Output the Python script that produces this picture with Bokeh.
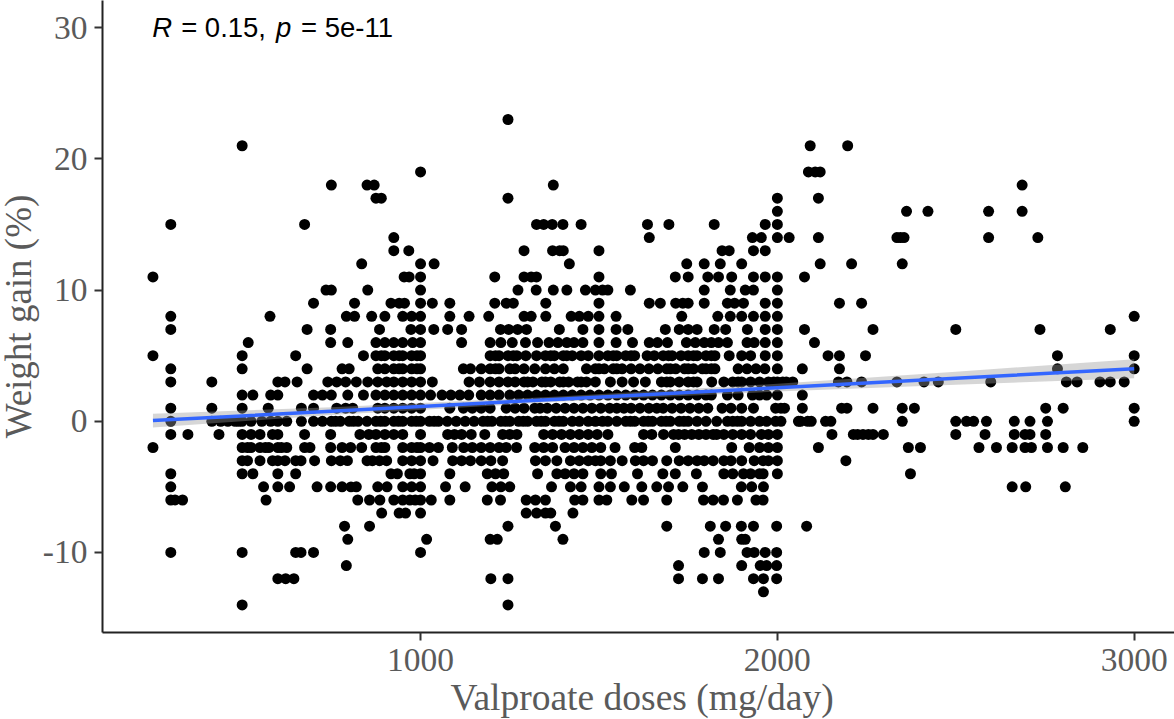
from bokeh.plotting import figure
from bokeh.models import Range1d, Label, FixedTicker, Title
from bokeh.embed import file_html
from bokeh.resources import INLINE

# Doses (mg/day) seen at each whole-number weight gain (%)
gain_p23 = [1245]
gain_p21 = [500, 2092, 2197]
gain_p19 = [1000, 2087, 2106, 2120]
gain_p18 = [750, 850, 870, 1372, 2686]
gain_p17 = [875, 890, 1245, 2000, 2115]
gain_p16 = [2000, 2362, 2422, 2592, 2686]
gain_p15 = [300, 675, 1325, 1345, 1369, 1399, 1450, 1636, 1696, 1823, 1966, 2000]
gain_p14 = [925, 1641, 1930, 1955, 2000, 2033, 2115, 2335, 2345, 2355, 2592, 2730]
gain_p13 = [925, 967, 1290, 1370, 1390, 1400, 1500, 1845, 1865, 1933, 1966]
gain_p12 = [835, 1000, 1038, 1417, 1746, 1795, 1840, 1900, 2120, 2208, 2350]
gain_p11 = [250, 954, 968, 1000, 1208, 1290, 1310, 1325, 1500, 1714, 1750, 1805, 1835, 1872, 1933, 1966, 2000, 2076]
gain_p10 = [735, 750, 852, 1000, 1273, 1324, 1372, 1410, 1462, 1490, 1510, 1525, 1588, 1795, 1868, 1910, 1933, 2000]
gain_p9 = [700, 815, 917, 940, 955, 1000, 1033, 1082, 1208, 1240, 1260, 1351, 1500, 1641, 1672, 1715, 1735, 1750, 1795,
           1860, 1880, 1905, 1966, 2000, 2174, 2236]
gain_p8 = [300, 578, 792, 815, 863, 900, 950, 975, 1000, 1082, 1136, 1191, 1290, 1310, 1351, 1422, 1445, 1470, 1500,
           1548, 1732, 1833, 1868, 1900, 1933, 1966, 2000, 3000]
gain_p7 = [300, 682, 748, 885, 973, 1000, 1037, 1076, 1115, 1224, 1247, 1272, 1297, 1389, 1455, 1500, 1548, 1581, 1686,
           1725, 1750, 1775, 1823, 1855, 1916, 1966, 2000, 2076, 2268, 2500, 2736, 2933]
gain_p6 = [517, 748, 796, 875, 900, 925, 950, 978, 1000, 1115, 1195, 1225, 1257, 1294, 1328, 1360, 1385, 1410, 1430,
           1455, 1500, 1548, 1594, 1641, 1664, 1692, 1745, 1770, 1795, 1815, 1835, 1860, 1915, 1935, 1966, 2000, 2104]
gain_p5 = [250, 500, 650, 840, 875, 890, 900, 925, 940, 950, 975, 990, 1000, 1195, 1210, 1220, 1245, 1260, 1270, 1295, 1325, 1350, 1365, 1375, 1400,
           1410, 1425, 1450, 1470, 1500, 1525, 1540, 1550, 1575, 1590, 1600, 1635, 1655, 1680, 1695, 1705, 1730, 1750, 1765, 1775, 1800, 1815, 1825, 1865,
           1900, 1925, 1966, 2000, 2142, 2174, 2247, 2785, 3000]
gain_p4 = [300, 500, 682, 780, 800, 880, 900, 925, 940, 950, 975, 990, 1000, 1120, 1140, 1170, 1195, 1210, 1220, 1250, 1265, 1290,
           1320, 1350, 1375, 1400, 1465, 1490, 1500, 1515, 1540, 1550, 1565, 1590, 1615, 1640, 1665, 1690, 1700, 1715, 1740, 1750, 1765, 1790,
           1800, 1815, 1825, 1890, 1915, 1940, 1965, 2000, 2070, 2174, 2785, 3000]
gain_p3 = [300, 415, 600, 620, 654, 740, 765, 790, 820, 852, 880, 905, 925, 950, 975, 1000, 1033, 1136, 1165, 1195,
           1220, 1245, 1265, 1290, 1300, 1315, 1340, 1350, 1365, 1390, 1400, 1415, 1440, 1450, 1465, 1490, 1532, 1565, 1597, 1630, 1675, 1690, 1700,
           1725, 1750, 1765, 1775, 1816, 1850, 1875, 1890, 1900, 1925, 1950, 1975, 1990, 2000, 2015, 2025, 2043, 2171, 2195, 2236,
           2335, 2411, 2451, 2598, 2810, 2840, 2904, 2933, 2972]
gain_p2 = [500, 530, 580, 600, 700, 725, 750, 796, 840, 875, 900, 925, 950, 975, 1000, 1028, 1060, 1085, 1110, 1135,
           1170, 1195, 1220, 1250, 1275, 1300, 1325, 1350, 1375, 1400, 1425, 1450, 1475, 1500, 1525, 1550, 1575, 1600,
           1625, 1650, 1675, 1700, 1725, 1750, 1775, 1800, 1815, 1860, 1890, 1930, 1950, 1970, 2000, 2070]
gain_p1 = [300, 415, 500, 573, 666, 700, 765, 790, 810, 880, 900, 925, 950, 975, 1000, 1082, 1120, 1145, 1170, 1195,
           1240, 1265, 1290, 1320, 1335, 1355, 1380, 1405, 1430, 1455, 1480, 1505, 1530, 1550, 1570, 1590, 1615, 1640,
           1662, 1680, 1705, 1730, 1755, 1780, 1805, 1845, 1870, 1900, 1933, 1995, 2010, 2020, 2070, 2180, 2195, 2268,
           2350, 2384, 2752, 2801, 3000]
gain_0 = [300, 415, 440, 460, 480, 490, 500, 525, 555, 580, 600, 625, 666, 700, 725, 750, 762, 775, 800, 812, 825, 850, 875, 888, 900,
          925, 938, 950, 975, 988, 1000, 1025, 1038, 1050, 1075, 1100, 1125, 1150, 1175, 1188, 1200, 1225, 1238, 1250, 1275, 1288, 1300, 1325, 1338, 1350,
          1375, 1388, 1400, 1425, 1445, 1470, 1490, 1510, 1525, 1550, 1575, 1588, 1600, 1625, 1638, 1650, 1675, 1688, 1700, 1725, 1738, 1750, 1775,
          1800, 1830, 1860, 1875, 1888, 1900, 1925, 1950, 1970, 1995, 2010, 2059, 2065, 2085, 2095, 2135, 2150, 2350, 2500,
          2530, 2550, 2586, 2664, 2708, 2757, 3000]
gain_m1 = [300, 348, 435, 500, 525, 550, 585, 600, 675, 748, 830, 855, 875, 900, 925, 950, 1000, 1076, 1095, 1115,
           1142, 1180, 1230, 1250, 1270, 1345, 1370, 1395, 1420, 1445, 1470, 1495, 1525, 1625, 1648, 1681, 1709, 1723,
           1740, 1760, 1780, 1800, 1820, 1830, 1850, 1875, 1900, 1925, 1955, 1975, 2000, 2153, 2213, 2225, 2240, 2255,
           2268, 2297, 2500, 2582, 2664, 2694, 2708, 2752]
gain_m2 = [250, 500, 515, 525, 550, 565, 575, 600, 610, 625, 675, 690, 748, 780, 804, 835, 875, 890, 900, 950, 975, 990, 1000, 1025, 1050,
           1089, 1121, 1145, 1170, 1195, 1220, 1240, 1269, 1320, 1345, 1370, 1405, 1430, 1455, 1480, 1505, 1545, 1600,
           1620, 1714, 1872, 1921, 1950, 1975, 2000, 2115, 2367, 2401, 2565, 2614, 2658, 2694, 2712, 2757, 2801, 2856]
gain_m3 = [500, 515, 550, 585, 600, 620, 650, 665, 703, 750, 775, 795, 850, 865, 885, 905, 950, 975, 1000, 1035, 1090,
           1115, 1140, 1170, 1197, 1230, 1322, 1350, 1382, 1420, 1445, 1470, 1490, 1505, 1532, 1565, 1602, 1625, 1650,
           1690, 1725, 1750, 1775, 1795, 1820, 1850, 1870, 1900, 1935, 1960, 1975, 2000, 2192]
gain_m4 = [300, 500, 530, 600, 650, 917, 935, 970, 982, 1000, 1082, 1187, 1210, 1233, 1328, 1382, 1405, 1430, 1455,
           1505, 1535, 1608, 1679, 1714, 1773, 1850, 1875, 1905, 1925, 1950, 1960, 2000, 2373]
gain_m5 = [300, 560, 600, 633, 710, 748, 780, 805, 820, 880, 906, 950, 975, 1000, 1070, 1125, 1200, 1225, 1250, 1367,
           1420, 1450, 1500, 1532, 1571, 1620, 1662, 1695, 1735, 1790, 1899, 1928, 1961, 2658, 2696, 2807]
gain_m6 = [300, 312, 333, 567, 824, 857, 886, 925, 950, 970, 985, 1000, 1030, 1082, 1187, 1224, 1296, 1322, 1350,
           1432, 1455, 1500, 1522, 1592, 1625, 1690, 1793, 1820, 1849, 1888, 1940, 1960]
gain_m7 = [891, 940, 958, 1000, 1296, 1325, 1350, 1365, 1427]
gain_m8 = [787, 857, 1245, 1378, 1690, 1812, 1855, 1899, 1933, 1998, 2082]
gain_m9 = [796, 1017, 1195, 1215, 1399, 1835, 1900, 1910]
gain_m10 = [300, 500, 650, 665, 700, 1000, 1795, 1840, 1915, 1935, 1966, 1998]
gain_m11 = [792, 1723, 1900, 1952, 1970, 1998]
gain_m12 = [600, 622, 645, 1197, 1245, 1723, 1790, 1835, 1933, 1961, 1998]
gain_m13 = [1961]
gain_m14 = [500, 1245]

gain_rows = {
    23: gain_p23, 21: gain_p21, 19: gain_p19, 18: gain_p18, 17: gain_p17, 16: gain_p16, 15: gain_p15,
    14: gain_p14, 13: gain_p13, 12: gain_p12, 11: gain_p11, 10: gain_p10, 9: gain_p9, 8: gain_p8,
    7: gain_p7, 6: gain_p6, 5: gain_p5, 4: gain_p4, 3: gain_p3, 2: gain_p2, 1: gain_p1, 0: gain_0,
    -1: gain_m1, -2: gain_m2, -3: gain_m3, -4: gain_m4, -5: gain_m5, -6: gain_m6, -7: gain_m7,
    -8: gain_m8, -9: gain_m9, -10: gain_m10, -11: gain_m11, -12: gain_m12, -13: gain_m13, -14: gain_m14,
}

# Regression line and its confidence band, read at a few doses
smooth_dose = [250, 750, 1400, 2000, 2500, 3000]
smooth_fit = [0.05, 0.77, 1.70, 2.56, 3.28, 4.00]
smooth_low = [-0.47, 0.47, 1.50, 2.26, 2.78, 3.28]
smooth_high = [0.57, 1.07, 1.90, 2.86, 3.78, 4.72]

x_ticks = [1000, 2000, 3000]
y_ticks = [-10, 0, 10, 20, 30]
y_tick_labels = {-10: "-10", 0: "0", 10: "10", 20: "20", 30: "30"}

xs, ys = [], []
for gain, doses in gain_rows.items():
    xs.extend(doses)
    ys.extend([gain] * len(doses))

p = figure(width=1182, height=719, output_backend="svg", toolbar_location=None,
           x_range=Range1d(108.6, 3118.6), y_range=Range1d(-16.1, 32.07),
           min_border_left=104, min_border_right=0, min_border_top=0, min_border_bottom=87,
           margin=(0, 0, 0, -6))
p.grid.visible = False
p.outline_line_color = None
p.background_fill_color = "white"

p.scatter(xs, ys, size=11, color="black", line_width=0)
p.varea(smooth_dose, smooth_low, smooth_high, fill_color="#999999", fill_alpha=0.4)
p.line(smooth_dose, smooth_fit, line_color="#3366FF", line_width=3.5)

for ax in (p.xaxis[0], p.yaxis[0]):
    ax.axis_line_color = "#222222"
    ax.axis_line_width = 2
    ax.major_tick_line_color = "#333333"
    ax.major_tick_line_width = 2
    ax.major_tick_out = 8
    ax.major_tick_in = 0
    ax.minor_tick_line_color = None
    ax.major_label_text_font = "Liberation Serif"
    ax.major_label_text_font_size = "33.5px"
    ax.major_label_text_color = "#5a5a5a"

p.xaxis[0].ticker = FixedTicker(ticks=x_ticks)
p.yaxis[0].ticker = FixedTicker(ticks=y_ticks)
p.yaxis[0].major_label_overrides = y_tick_labels
p.yaxis[0].axis_label = "Weight gain (%)"
p.yaxis[0].axis_label_text_font = "Liberation Serif"
p.yaxis[0].axis_label_text_font_size = "37px"
p.yaxis[0].axis_label_text_font_style = "normal"
p.yaxis[0].axis_label_text_color = "#5a5a5a"
p.xaxis[0].major_label_standoff = 8
p.yaxis[0].major_label_standoff = 7
p.yaxis[0].axis_label_standoff = 1

p.add_layout(Title(text="Valproate doses (mg/day)", align="left", offset=348, standoff=3,
                   text_font="Liberation Serif", text_font_size="37.5px", text_font_style="normal",
                   text_color="#5a5a5a"), "below")

for txt, dose, style in [("R", 248, "italic"), ("= 0.15,", 329, "normal"), ("p", 595, "italic"), ("= 5e-11", 665, "normal")]:
    p.add_layout(Label(x=dose, y=30, text=txt,
                       text_font="Liberation Sans", text_font_size="27.5px", text_font_style=style,
                       text_color="black", text_baseline="middle", text_align="left"))

open("out.html", "w").write(file_html(p, INLINE))
